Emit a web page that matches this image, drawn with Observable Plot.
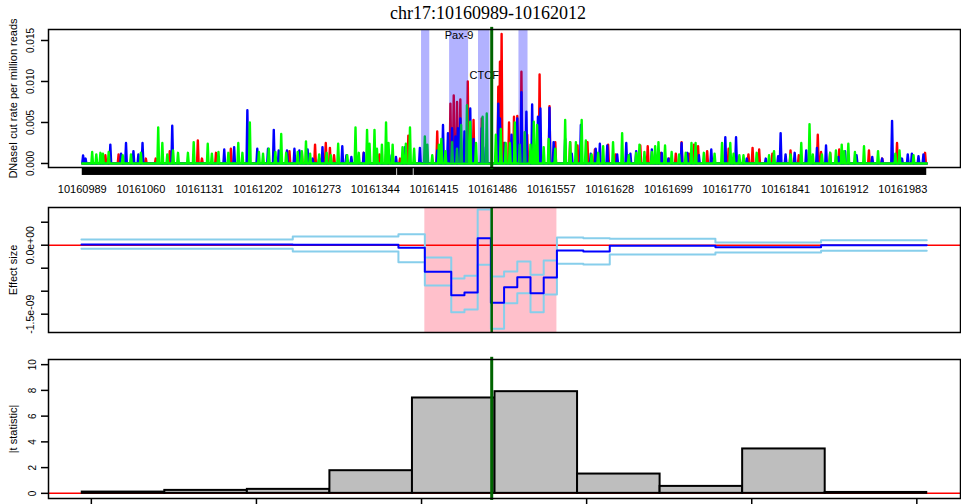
<!DOCTYPE html>
<html><head><meta charset="utf-8">
<script src="https://cdn.jsdelivr.net/npm/d3@7"></script>
<script src="https://cdn.jsdelivr.net/npm/@observablehq/plot@0.6"></script>
<style>
html,body{margin:0;padding:0;background:#fff;overflow:hidden;}
#wrap{position:relative;width:961px;height:504px;}
.panel{position:absolute;left:0;}
#title{position:absolute;left:0;top:4px;width:976px;text-align:center;font-family:"Liberation Serif","Times New Roman",serif;font-size:18px;line-height:18px;color:#000;}
</style></head><body>
<div id="wrap">
  <div id="p1" class="panel" style="top:0px"></div>
  <div id="p2" class="panel" style="top:196px"></div>
  <div id="p3" class="panel" style="top:346px"></div>
  <div id="title">chr17:10160989-10162012</div>
</div>
<script>
// ---------- data ----------
const regionStart = 10160989, regionEnd = 10162012;
const snpPos = [10161485];
const xTicksTop = [10160989, 10161060, 10161131, 10161202, 10161273, 10161344, 10161415, 10161486, 10161557, 10161628, 10161699, 10161770, 10161841, 10161912, 10161983];
const yTicksTop = [0, 0.005, 0.010, 0.015];
const rugStart = [10160989, 10161371, 10161391];
const rugEnd   = [10161370, 10161390, 10162012];

// DNase I cut rate spikes: offset (bp from regionStart), value (x 1e-3)
const redPos = [28,44,77,89,106,140,145,162,180,251,266,282,295,300,305,341,360,368,385,395,430,446,450,454,458,467,474,484,504,506,508,511,517,523,527,532,539,547,554,566,573,591,600,612,621,637,646,661,676,685,700,711,719,726,735,741,746,757,783,807,812,820,836,858,868,891,895,906,917,953,969,987,1021];
const redVal = [1.0,1.1,0.6,0.6,1.5,2.8,0.6,1.3,1.8,1.5,1.4,2.3,2.5,1.9,1.0,1.3,1.1,1.1,0.6,3.4,3.9,7.3,8.3,7.5,7.8,10.0,5.3,5.5,9.35,12.4,15.8,2.5,5.0,5.7,5.8,11.2,3.5,3.0,10.85,7.0,2.6,2.6,2.2,2.6,1.7,2.3,1.1,0.8,2.2,2.1,1.3,0.6,1.2,2.6,1.2,2.3,2.1,1.5,1.8,1.1,1.9,1.7,1.2,1.6,1.0,3.5,1.4,1.3,1.7,1.6,0.6,2.5,1.3];
const bluePos = [1,4,34,47,53,62,68,73,109,172,184,200,212,225,232,238,248,257,263,273,279,287,291,315,320,326,341,355,372,380,391,409,430,437,443,448,452,455,458,463,470,474,484,489,504,506,512,520,527,532,538,545,552,555,566,571,585,593,604,616,622,627,636,648,659,664,671,674,690,702,710,726,733,747,762,779,792,805,828,843,846,852,863,877,890,901,916,924,938,957,969,981,993,1000,1005,1013,1019];
const blueVal = [0.98,0.6,2.3,1.2,2.5,1.5,1.1,2.5,4.6,1.7,2.0,6.5,1.8,1.8,4.1,1.6,1.6,1.8,1.6,1.7,0.6,0.6,2.0,2.1,1.0,0.8,1.3,0.6,1.0,0.8,2.0,1.9,1.6,4.7,3.7,4.3,3.3,4.3,5.5,3.9,6.7,3.0,4.3,2.0,7.3,5.5,2.5,3.5,5.5,8.7,6.3,7.2,5.7,6.7,6.8,2.6,3.0,1.2,4.7,1.2,1.8,2.4,2.2,1.1,2.5,1.2,1.5,0.4,1.7,1.3,0.6,2.5,1.3,1.0,1.7,3.2,3.2,0.6,0.6,0.9,3.7,1.1,1.3,1.6,1.9,2.2,0.8,1.5,1.0,0.8,0.6,5.2,0.6,1.1,1.2,0.9,1.1];
const greenPos = [12,17,22,25,32,49,59,71,92,97,103,110,116,128,135,152,157,165,177,189,194,203,214,219,226,234,241,247,261,266,271,276,287,296,301,310,321,331,335,345,348,354,357,363,368,371,376,388,392,397,402,415,418,424,432,435,440,448,454,459,466,470,477,485,490,501,507,513,518,524,530,536,543,547,551,559,565,573,585,591,598,605,610,617,625,631,643,654,662,671,675,681,690,694,698,706,714,723,731,738,743,753,766,775,785,789,796,801,817,832,838,858,871,881,885,896,906,913,920,923,928,936,947,964,985,990,1007];
const greenVal = [1.4,1.1,1.3,1.2,1.4,1.0,1.1,1.3,4.4,2.5,1.1,1.6,1.3,1.3,2.6,2.4,1.2,1.4,1.3,2.5,1.3,5.0,1.4,1.2,1.8,1.4,3.6,1.3,1.4,1.5,2.7,1.2,1.1,1.3,1.0,2.4,1.0,4.4,1.3,4.1,2.4,4.1,1.8,2.3,5.0,2.5,2.3,2.0,2.4,4.4,1.8,3.3,2.3,1.0,2.3,3.0,1.5,2.6,1.8,4.7,7.1,5.1,2.5,5.7,6.1,3.5,4.2,2.5,2.5,5.0,2.3,3.8,2.3,5.1,4.7,2.0,3.0,1.8,5.3,2.6,2.6,5.3,2.8,1.1,1.3,2.1,2.6,3.7,1.0,1.3,2.3,1.4,1.4,2.1,2.6,2.2,1.4,1.1,1.3,2.5,2.5,1.3,1.2,2.5,2.5,1.2,1.0,1.0,1.3,1.0,1.5,1.1,2.5,4.8,1.1,1.1,1.3,1.6,2.3,1.5,2.4,1.4,2.1,1.5,1.2,1.6,1.0];

// motif hits
const motifStart = [10161400, 10161434, 10161469, 10161518];
const motifEnd   = [10161410, 10161457, 10161483, 10161529];
const motifName  = ["", "Pax-9", "CTCF", ""];
const motifLabelHeight = [0, 0.0156, 0.0107, 0];

// effect size steps (x 1e-10)
const effStart = [10160988, 10161244, 10161372, 10161404, 10161436, 10161452, 10161468, 10161484, 10161500, 10161516, 10161532, 10161548, 10161564, 10161596, 10161628, 10161756, 10161884];
const effEnd = 10162012;
const effMid = [0.15, 0.09, -0.57, -5.78, -10.87, -10.28, 1.52, -12.52, -9.13, -6.96, -10.44, -7.02, -1.15, -1.37, -0.13, -0.43, 0.0];
const effUp  = [1.24, 1.89, 2.39, -2.67, -7.24, -6.65, 7.76, -6.8, -5.72, -3.54, -6.43, -3.33, 1.67, 1.52, 1.39, 0.59, 1.09];
const effLo  = [-0.78, -1.37, -3.7, -8.76, -14.57, -13.98, -4.26, -18.17, -12.61, -10.44, -14.57, -10.72, -4.04, -4.2, -2.02, -1.59, -1.22];
const sigStart = [10161404], sigEnd = [10161564];
const effTicks = [5e-10, 0, -5e-10, -1e-9, -1.5e-9];
const effTickLabels = ["", "0.0e+00", "", "", "-1.5e-09"];

// |t statistic| bins
const binStart = [10160989, 10161089, 10161189, 10161289, 10161389, 10161489, 10161589, 10161689, 10161789, 10161889];
const binEnd   = [10161089, 10161189, 10161289, 10161389, 10161489, 10161589, 10161689, 10161789, 10161889, 10162012];
const tStat    = [0.10, 0.23, 0.31, 1.76, 7.41, 7.90, 1.50, 0.54, 3.45, 0.07];
const tTicks = [0, 2, 4, 6, 8, 10];
const bottomTicks = [10161000, 10161200, 10161400, 10161600, 10161800, 10162000];

// ---------- helpers ----------
const W = 961;
const xDomain = [10160948.1, 10162052.9];
const FONT = "'Liberation Sans', Arial, Helvetica, sans-serif";
const style = {fontFamily: FONT, fontSize: "11px", color: "#000", background: "transparent", overflow: "visible"};
const DG = "#006400";

function spikeLine(pos, val) {
  const pts = [{x: regionStart, y: 0}];
  for (let i = 0; i < pos.length; i++) {
    const p = regionStart + pos[i];
    pts.push({x: p - 1, y: 0}, {x: p, y: val[i] / 1000}, {x: p + 1, y: 0});
  }
  pts.push({x: regionEnd, y: 0});
  return pts;
}
function steps(vals) {
  const pts = effStart.map((s, i) => ({x: s, y: vals[i] * 1e-10}));
  pts.push({x: effEnd, y: vals[vals.length - 1] * 1e-10});
  return pts;
}
const rug = rugStart.map((s, i) => ({x1: s, x2: rugEnd[i]}));
const motifs = motifStart.map((s, i) => ({x1: s, x2: motifEnd[i], name: motifName[i], h: motifLabelHeight[i]}));
const bins = binStart.map((s, i) => ({x1: s, x2: binEnd[i], v: tStat[i]}));
const vtext = (opts) => ({frameAnchor: "left", textAnchor: "middle", lineAnchor: "middle", rotate: -90, fill: "black", ...opts});

// ---------- panel 1 ----------
const y1Dom = [-0.00049, 0.01634];
const p1 = Plot.plot({
  width: W, height: 196, marginLeft: 48, marginRight: 1, marginTop: 29, marginBottom: 29,
  x: {domain: xDomain, label: null}, y: {domain: y1Dom, label: null},
  style,
  marks: [
    Plot.rect(rug, {x1: "x1", x2: "x2", y1: -0.00049, y2: -0.00146, fill: "black", clip: false}),
    Plot.line(spikeLine(redPos, redVal), {x: "x", y: "y", stroke: "#ff0000", strokeWidth: 2.4}),
    Plot.line(spikeLine(bluePos, blueVal), {x: "x", y: "y", stroke: "#0000ff", strokeWidth: 2.4}),
    Plot.line(spikeLine(greenPos, greenVal), {x: "x", y: "y", stroke: "#00ff00", strokeWidth: 2.4}),
    Plot.rect(motifs, {x1: "x1", x2: "x2", y1: 0, y2: y1Dom[1], fill: "#0000ff", fillOpacity: 0.3}),
    Plot.text(motifs.filter(d => d.name), {x: d => (d.x1 + d.x2) / 2, y: "h", text: "name", fontSize: 11, fill: "black"}),
    Plot.ruleX(snpPos, {x: d => d, y1: -0.00075, y2: 0.0166, stroke: DG, strokeWidth: 3}),
    Plot.frame({strokeWidth: 1.5, stroke: "black"}),
    Plot.axisY({ticks: yTicksTop, tickSize: 7, tickFormat: () => "", strokeWidth: 1.5, label: null}),
    Plot.text(yTicksTop, vtext({y: d => d, text: d => d3.format(".3f")(d), dx: -18, fontSize: 10})),
    Plot.text(["DNaseI cut rate per million reads"], vtext({text: d => d, dx: -35, fontSize: 11})),
    Plot.axisX({ticks: xTicksTop, tickSize: 0, tickPadding: 18, tickFormat: d => String(d), fontSize: 11, label: null})
  ]
});
document.getElementById("p1").appendChild(p1);

// ---------- panel 2 ----------
const y2Dom = [-18.98e-10, 8.2e-10];
const p2 = Plot.plot({
  width: W, height: 150, marginLeft: 48, marginRight: 1, marginTop: 11, marginBottom: 14,
  x: {domain: xDomain, label: null, axis: null}, y: {domain: y2Dom, label: null},
  style,
  marks: [
    Plot.rect(sigStart.map((s, i) => ({x1: s, x2: sigEnd[i]})), {x1: "x1", x2: "x2", y1: y2Dom[0], y2: y2Dom[1], fill: "pink"}),
    Plot.ruleY([0], {stroke: "#ff0000", strokeWidth: 1.5}),
    Plot.line(steps(effUp), {x: "x", y: "y", curve: "step-after", stroke: "#87ceeb", strokeWidth: 2}),
    Plot.line(steps(effLo), {x: "x", y: "y", curve: "step-after", stroke: "#87ceeb", strokeWidth: 2}),
    Plot.line(steps(effMid), {x: "x", y: "y", curve: "step-after", stroke: "#0000ff", strokeWidth: 2}),
    Plot.ruleX(snpPos, {x: d => d, stroke: DG, strokeWidth: 2.5}),
    Plot.frame({strokeWidth: 1.5, stroke: "black"}),
    Plot.axisY({ticks: effTicks, tickSize: 7, tickFormat: () => "", strokeWidth: 1.5, label: null}),
    Plot.text(effTicks.map((t, i) => ({t, s: effTickLabels[i]})).filter(d => d.s), vtext({y: "t", text: "s", dx: -18, fontSize: 10.5})),
    Plot.text(["Effect size"], vtext({text: d => d, dx: -35, fontSize: 11}))
  ]
});
document.getElementById("p2").appendChild(p2);

// ---------- panel 3 ----------
const y3Dom = [-0.4, 10.4];
const p3 = Plot.plot({
  width: W, height: 158, marginLeft: 48, marginRight: 1, marginTop: 13, marginBottom: 6,
  x: {domain: xDomain, label: null}, y: {domain: y3Dom, label: null},
  style,
  marks: [
    Plot.ruleY([0], {stroke: "#ff0000", strokeWidth: 1.5}),
    Plot.rect(bins, {x1: "x1", x2: "x2", y1: 0, y2: "v", fill: "#bebebe", stroke: "black", strokeWidth: 2}),
    Plot.ruleX(snpPos, {x: d => d, y1: -0.55, y2: 10.57, stroke: DG, strokeWidth: 3}),
    Plot.frame({strokeWidth: 1.5, stroke: "black"}),
    Plot.axisY({ticks: tTicks, tickSize: 7, tickFormat: () => "", strokeWidth: 1.5, label: null}),
    Plot.text(tTicks, vtext({y: d => d, text: d => String(d), dx: -16, fontSize: 10})),
    Plot.text(["|t statistic|"], vtext({text: d => d, dx: -35, fontSize: 11})),
    Plot.axisX({ticks: bottomTicks, tickSize: 7, tickFormat: () => "", strokeWidth: 1.5, label: null})
  ]
});
document.getElementById("p3").appendChild(p3);
</script>
</body></html>
